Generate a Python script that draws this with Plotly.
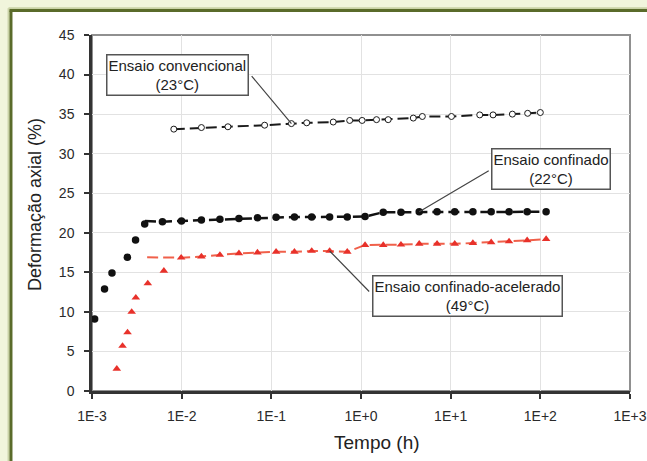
import numpy as np
import plotly.graph_objects as go

# ---------------- data ----------------
conv_t = [0.00817, 0.0166, 0.0328, 0.0842, 0.1675, 0.248, 0.490, 0.748, 1.03, 1.49,
          2.01, 3.83, 4.83, 10.2, 21.1, 29.7, 48.8, 72.2, 100]
conv_y = [33.1, 33.3, 33.4, 33.6, 33.8, 33.9, 34.0, 34.2, 34.2, 34.3,
          34.3, 34.5, 34.7, 34.7, 34.9, 34.9, 35.0, 35.1, 35.2]

conf_t = [0.00107, 0.00138, 0.00167, 0.00248, 0.00306, 0.00387, 0.0061, 0.00995, 0.0166, 0.0267,
          0.0435, 0.070, 0.113, 0.181, 0.282, 0.447, 0.703, 1.11, 1.77, 2.79,
          4.46, 7.05, 11.1, 17.7, 28.3, 44.8, 71.3, 116]
conf_y = [9.1, 12.9, 14.9, 16.9, 19.1, 21.1, 21.4, 21.5, 21.6, 21.7,
          21.8, 21.9, 21.95, 22.0, 22.0, 22.0, 22.0, 22.05, 22.6, 22.6,
          22.65, 22.65, 22.65, 22.65, 22.65, 22.65, 22.65, 22.65]
conf_fit_start_t = 0.0039
conf_fit_start_y = 21.5

acc_t = [0.00189, 0.00219, 0.00249, 0.00277, 0.00308, 0.00419, 0.00633, 0.00987, 0.0166, 0.0267,
         0.0435, 0.070, 0.113, 0.181, 0.282, 0.447, 0.703, 1.11, 1.77, 2.79,
         4.46, 7.05, 11.1, 17.7, 28.3, 44.8, 71.3, 116]
acc_y = [2.8, 5.7, 7.4, 10.0, 11.8, 13.6, 15.2, 16.85, 17.0, 17.2,
         17.4, 17.5, 17.6, 17.6, 17.7, 17.7, 17.6, 18.45, 18.45, 18.5,
         18.6, 18.6, 18.6, 18.7, 18.8, 18.9, 19.05, 19.2]
acc_fit_start_t = 0.00412
acc_fit_start_y = 16.9

x_tickvals = [1e-3, 1e-2, 1e-1, 1e0, 1e1, 1e2, 1e3]
x_ticktext = ["1E-3", "1E-2", "1E-1", "1E+0", "1E+1", "1E+2", "1E+3"]
y_tickvals = [0, 5, 10, 15, 20, 25, 30, 35, 40, 45]

# labels: (text, box center t, box center y, pointed t, pointed y, leader start offset px)
labels = [
    ("Ensaio convencional<br>(23°C)", 0.00908, 39.95, 0.1675, 33.8, (-41, -49)),
    ("Ensaio confinado<br>(22°C)", 131.5, 28.05, 4.46, 22.65, (71, -42)),
    ("Ensaio confinado-acelerado<br>(49°C)", 15.3, 12.05, 0.447, 17.7, (41, 42)),
]

FONT = "Liberation Sans, Arial, sans-serif"
DASH = "11px,5px"
CREAM = "#f1f5dc"
OLIVE = "#5a6b2a"

fig = go.Figure()

# trend lines (dashed)
fig.add_trace(go.Scatter(x=conv_t, y=conv_y, mode="lines",
                         line=dict(color="#1a1a1a", width=2, dash=DASH),
                         hoverinfo="skip", showlegend=False))
fig.add_trace(go.Scatter(x=[conf_fit_start_t] + conf_t[6:], y=[conf_fit_start_y] + conf_y[6:],
                         mode="lines", line=dict(color="#111111", width=2.5, dash=DASH),
                         hoverinfo="skip", showlegend=False))
fig.add_trace(go.Scatter(x=[acc_fit_start_t] + acc_t[7:], y=[acc_fit_start_y] + acc_y[7:],
                         mode="lines", line=dict(color="#f0604a", width=2, dash=DASH),
                         hoverinfo="skip", showlegend=False))

# markers
fig.add_trace(go.Scatter(x=conv_t, y=conv_y, mode="markers",
                         marker=dict(symbol="circle", size=6, color="white",
                                     line=dict(color="#1a1a1a", width=1)),
                         name="Ensaio convencional", showlegend=False))
fig.add_trace(go.Scatter(x=conf_t, y=conf_y, mode="markers",
                         marker=dict(symbol="circle", size=7.5, color="#111111"),
                         name="Ensaio confinado", showlegend=False))
fig.add_trace(go.Scatter(x=acc_t, y=acc_y, mode="markers",
                         marker=dict(symbol="triangle-up", size=7.5, color="#e8312a"),
                         name="Ensaio confinado-acelerado", showlegend=False))

annotations = []
for text, bt, by, pt, py, (ox, oy) in labels:
    annotations.append(dict(x=np.log10(bt), y=by, xref="x", yref="y", text=text,
                            showarrow=False, font=dict(family=FONT, size=15, color="#222"),
                            bgcolor="white", bordercolor="#555", borderwidth=1.5,
                            borderpad=1, align="center"))
    annotations.append(dict(x=np.log10(pt), y=py, xref="x", yref="y", text="",
                            showarrow=True, arrowhead=0, arrowwidth=1.2, arrowcolor="#444",
                            ax=ox, ay=oy, standoff=0, startstandoff=0))

annotations.append(dict(x=0.529, y=-0.145, xref="paper", yref="paper", text="Tempo (h)",
                        showarrow=False, font=dict(family=FONT, size=19, color="#222"),
                        xanchor="center", yanchor="middle"))
annotations.append(dict(x=-0.106, y=0.525, xref="paper", yref="paper",
                        text="Deformação axial (%)", textangle=-90,
                        showarrow=False, font=dict(family=FONT, size=18, color="#222"),
                        xanchor="center", yanchor="middle"))

XL = -0.1506   # panel left edge (paper)
YT = 1.0688    # panel top edge (paper)
shapes = [
    # cream surround (left and top strips)
    dict(type="rect", xref="paper", yref="paper", x0=-0.3, y0=-0.3, x1=XL, y1=1.2,
         line=dict(width=0), fillcolor=CREAM, layer="below"),
    dict(type="rect", xref="paper", yref="paper", x0=-0.3, y0=YT, x1=1.1, y1=1.2,
         line=dict(width=0), fillcolor=CREAM, layer="below"),
    # light halo
    dict(type="line", xref="paper", yref="paper", x0=XL - 0.0045, y0=-0.3, x1=XL - 0.0045, y1=YT + 0.006,
         line=dict(color="#c9d2a6", width=2), layer="below"),
    dict(type="line", xref="paper", yref="paper", x0=XL - 0.0045, y0=YT + 0.006, x1=1.1, y1=YT + 0.006,
         line=dict(color="#c9d2a6", width=2), layer="below"),
    # olive border
    dict(type="line", xref="paper", yref="paper", x0=XL, y0=-0.3, x1=XL, y1=YT,
         line=dict(color=OLIVE, width=3), layer="below"),
    dict(type="line", xref="paper", yref="paper", x0=XL - 0.0028, y0=YT, x1=1.1, y1=YT,
         line=dict(color=OLIVE, width=3), layer="below"),
    # plot frame (top/right grey)
    dict(type="rect", xref="paper", yref="paper", x0=0, y0=0, x1=1, y1=1,
         line=dict(color="#909090", width=2), fillcolor="rgba(0,0,0,0)", layer="below"),
]

fig.update_layout(
    width=647, height=461,
    margin=dict(l=92, r=17, t=35, b=70, autoexpand=False),
    paper_bgcolor="white", plot_bgcolor="white",
    font=dict(family=FONT, color="#222"),
    annotations=annotations, shapes=shapes,
    showlegend=False,
)
fig.update_xaxes(type="log", range=[-3, 3], tickvals=x_tickvals, ticktext=x_ticktext,
                 showgrid=True, gridcolor="#e2e2e2", gridwidth=1,
                 showline=True, linecolor="#333", linewidth=2.5,
                 ticks="outside", ticklen=5, tickwidth=1.5, tickcolor="#333",
                 tickfont=dict(family=FONT, size=14, color="#2a2a2a"),
                 ticklabelstandoff=5, zeroline=False, automargin=False)
fig.update_yaxes(range=[0, 45], tickvals=y_tickvals,
                 showgrid=True, gridcolor="#e2e2e2", gridwidth=1,
                 showline=True, linecolor="#333", linewidth=2.5,
                 ticks="outside", ticklen=5, tickwidth=1.5, tickcolor="#333",
                 tickfont=dict(family=FONT, size=14, color="#2a2a2a"),
                 ticklabelstandoff=7, zeroline=False, automargin=False)

fig.write_html("out.html", config={"displayModeBar": False},
               post_script="document.body.style.margin='0px';document.body.style.padding='0px';"
                           "document.body.style.overflow='hidden';")
